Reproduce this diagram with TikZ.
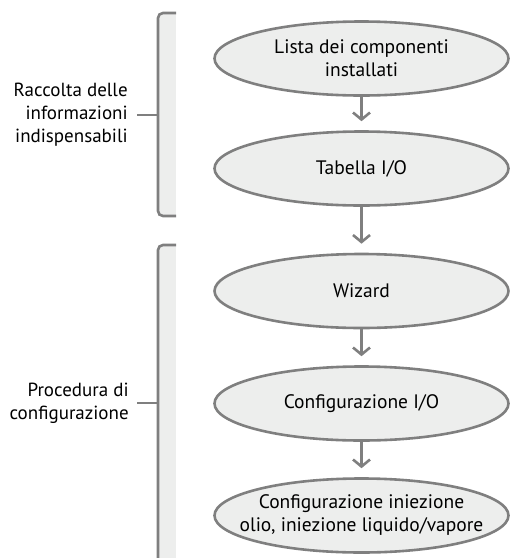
\documentclass[tikz,border=0pt]{standalone}
\usepackage{fontspec}
\setmainfont{PT Sans}
\usetikzlibrary{shapes,arrows.meta,positioning}
\definecolor{lineGray}{HTML}{7F7F7F}
\definecolor{fillGray}{HTML}{EDEEED}

\begin{document}
\begin{tikzpicture}[x=1pt, y=-1pt, line width=2.6pt,
    node_style/.style={ellipse, draw=lineGray, fill=fillGray, minimum width=294pt, minimum height=74pt, inner sep=0pt, align=center, font=\fontsize{19.5}{23}\selectfont},
    label_style/.style={anchor=east, inner sep=0pt, align=right, font=\fontsize{19}{23}\selectfont},
    edge_style/.style={draw=lineGray, -{Straight Barb[length=7pt, width=17pt]}, shorten >=9pt},
    brace_style/.style={draw=lineGray, rounded corners=5pt}]

	\useasboundingbox (0,0) rectangle (512,558);

	% brackets
	\fill[fillGray] (158,13) rectangle (176,216);
	\fill[fillGray] (158,245) rectangle (176,570);
	\draw[brace_style] (176,13) -- (158,13) -- (158,216) -- (176,216);
	\draw[brace_style] (176,245) -- (158,245) -- (158,570);
	\coordinate (b1) at (158,115);
	\coordinate (b2) at (158,403);

	\node[label_style] (info) at (129,115) {Raccolta delle\\informazioni\\indispensabili};
	\node[label_style] (proc) at (130,403) {Procedura di\\configurazione};

	\draw[brace_style, shorten <=8pt] (info.east) -- (b1);
	\draw[brace_style, shorten <=7pt] (proc.east) -- (b2);

	\node[node_style] (v1) at (361.5,58.5) {Lista dei componenti\\installati};
	\node[node_style] (v2) at (361.5,168.5) {Tabella I/O};
	\node[node_style] (v3) at (361.5,291) {Wizard};
	\node[node_style] (v4) at (361.5,403.5) {Configurazione I/O};
	\node[node_style, inner xsep=-40pt] (v5) at (361.5,515.5) {Configurazione iniezione\\olio, iniezione liquido/vapore};

	\draw[edge_style] (v1) -- (v2);
	\draw[edge_style] (v2) -- (v3);
	\draw[edge_style] (v3) -- (v4);
	\draw[edge_style] (v4) -- (v5);
\end{tikzpicture}
\end{document}
